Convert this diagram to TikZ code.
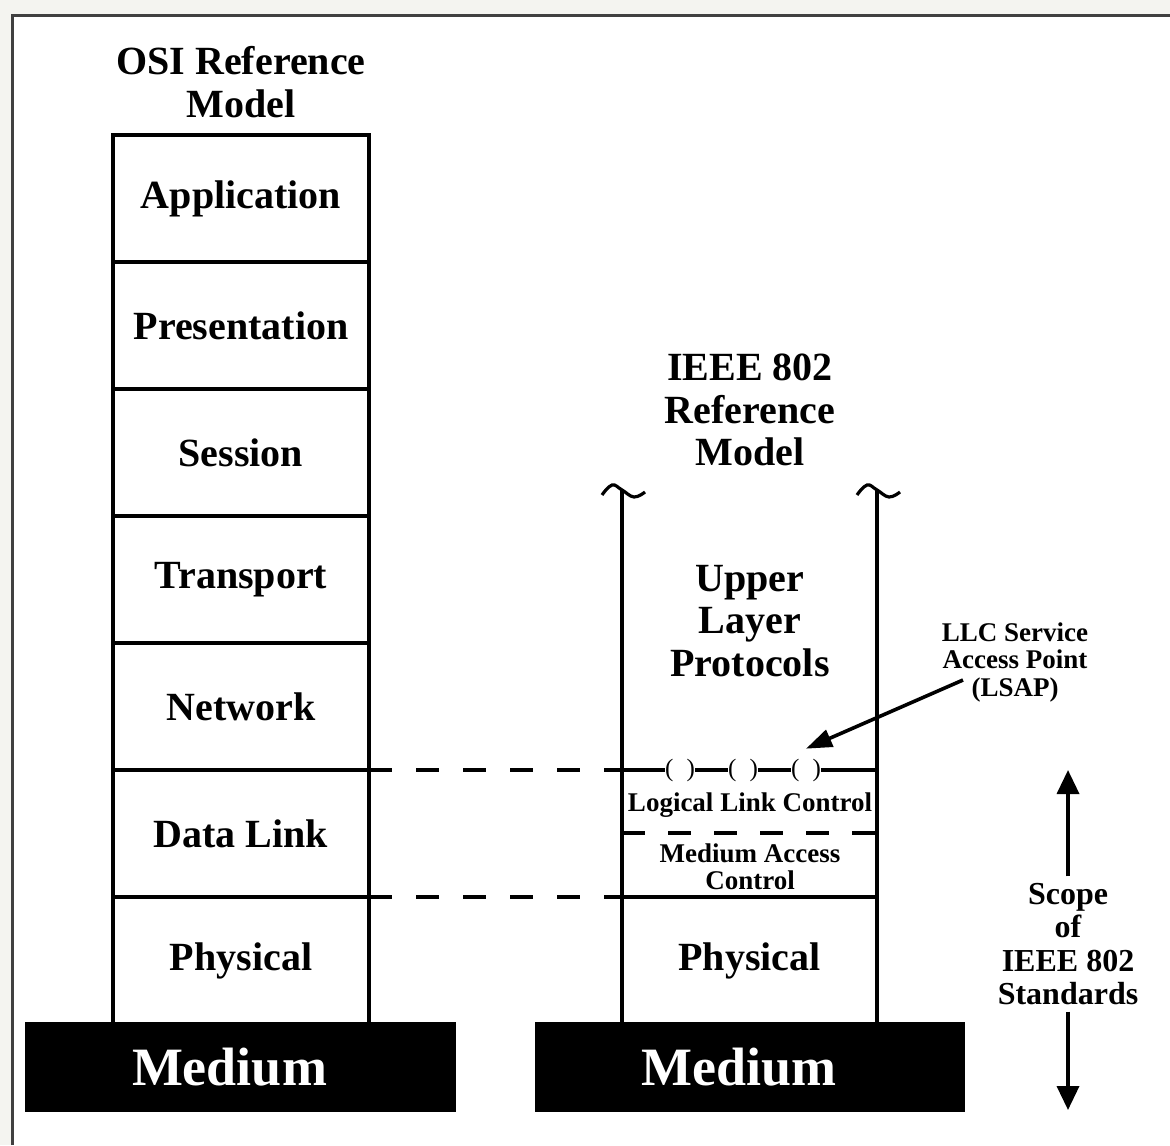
\documentclass[tikz,border=0pt]{standalone}
\usepackage{fontspec}
\setmainfont{Liberation Serif}
\usetikzlibrary{arrows.meta}
\definecolor{bgout}{HTML}{F4F4F0}
\definecolor{frameline}{HTML}{404040}
\begin{document}
\begin{tikzpicture}[x=0.5pt,y=-0.5pt,
  stk/.style={line width=1.8pt},
  lay/.style={draw, line width=1.8pt, minimum width=128pt, minimum height=63.5pt, inner sep=0pt, outer sep=0pt,
    font=\fontsize{20}{21}\selectfont\bfseries, align=center},
  title/.style={font=\fontsize{20}{21.2}\selectfont\bfseries, align=center, inner sep=0pt},
  small/.style={font=\fontsize{13.5}{13.75}\selectfont\bfseries, align=center, inner sep=0pt},
  scopetxt/.style={font=\fontsize{16}{16.8}\selectfont\bfseries, align=center, inner sep=3pt},
  medium/.style={fill=black, text=white, minimum height=45pt, inner sep=0pt, outer sep=0pt,
    font=\fontsize{27}{27}\selectfont\bfseries},
  dashln/.style={line width=1.8pt, dash pattern=on 11.5pt off 12pt},
  sap/.style={fill=white, inner sep=0pt, outer sep=0pt, font=\fontsize{12.5}{12.5}\selectfont},
  ptr/.style={line width=1.8pt, -{Triangle[length=13pt,width=9pt]}},
  bigptr/.style={line width=1.8pt, -{Triangle[length=12pt,width=11pt]}}
]
\useasboundingbox (0,0) rectangle (1170,1145);
% frame
\fill[bgout] (0,0) rectangle (1170,1145);
\fill[white] (12,16) rectangle (1170,1145);
\draw[frameline, line width=1.5pt] (12,1145) -- (12,16) -- (1170,16);

% OSI stack
\node[title] (osititle) at (241,82) {OSI Reference\\Model};
\node[lay] (app)   at (241,198.5) {Application};
\node[lay] (pres)  at (241,325.5) {Presentation};
\node[lay] (sess)  at (241,452.5) {Session};
\node[lay] (trans) at (241,579.5) {Transport};
\node[lay] (net)   at (241,706.5) {Network};
\node[lay] (dl)    at (241,833.5) {Data Link};
\node[lay] (phys)  at (241,960.5) {Physical};

% IEEE 802 stack
\node[title] (ieeetitle) at (750,410) {IEEE 802\\Reference\\Model};
\coordinate (rTL) at (622,490);
\coordinate (rTR) at (877,490);
\node[lay, minimum width=127.5pt] (rphys) at (749.5,960.5) {Physical};
\draw[stk] (rTL) -- (rphys.south west);
\draw[stk] (rTR) -- (rphys.south east);
\draw[line width=1.6pt, shift={(rTL)}] plot[smooth, tension=0.7] coordinates {(-20,5) (-10,-5) (0,0) (12,7) (23,2)};
\draw[line width=1.6pt, shift={(rTR)}] plot[smooth, tension=0.7] coordinates {(-20,5) (-10,-5) (0,0) (12,7) (23,2)};
\node[title] (ulp) at (750,621) {Upper\\Layer\\Protocols};

\coordinate (cL) at (dl.north east -| rTL);
\coordinate (cR) at (dl.north east -| rTR);
\node[sap] (s1) at (680,770) {(\hspace{6.5pt})};
\node[sap] (s2) at (743,770) {(\hspace{6.5pt})};
\node[sap] (s3) at (806,770) {(\hspace{6.5pt})};
\draw[stk] (cL) -- (s1) -- (s2) -- (s3) -- (cR);

\node[small] (llc) at (750,805) {Logical Link Control};
\coordinate (mL) at (622,833);
\coordinate (mR) at (877,833);
\draw[line width=1.8pt, dash pattern=on 11.5pt off 11.5pt] (mL) -- (mR);
\node[small] (mac) at (750,866.5) {Medium Access\\Control};

% dashed links
\draw[dashln] (dl.north east) -- (cL);
\draw[dashln] (dl.south east) -- (dl.south east -| rTL);

% LSAP
\node[small] (lsap) at (1015,662) {LLC Service\\Access Point\\(LSAP)};
\coordinate (lsapStart) at (963,680);
\draw[ptr] (lsapStart) -- ([yshift=5]s3.north);

% scope
\node[scopetxt] (scope) at (1068,944) {Scope\\of\\IEEE 802\\Standards};
\coordinate (sTop) at (1068,770);
\coordinate (sBot) at (1068,1110);
\draw[bigptr] (scope.north) -- (sTop);
\draw[bigptr] (scope.south) -- (sBot);

% media
\node[medium, minimum width=215.5pt] (m1) at (240.5,1067) {Medium\hspace*{11pt}};
\node[medium, minimum width=215pt] (m2) at (750,1067) {Medium\hspace*{11pt}};
\end{tikzpicture}
\end{document}
